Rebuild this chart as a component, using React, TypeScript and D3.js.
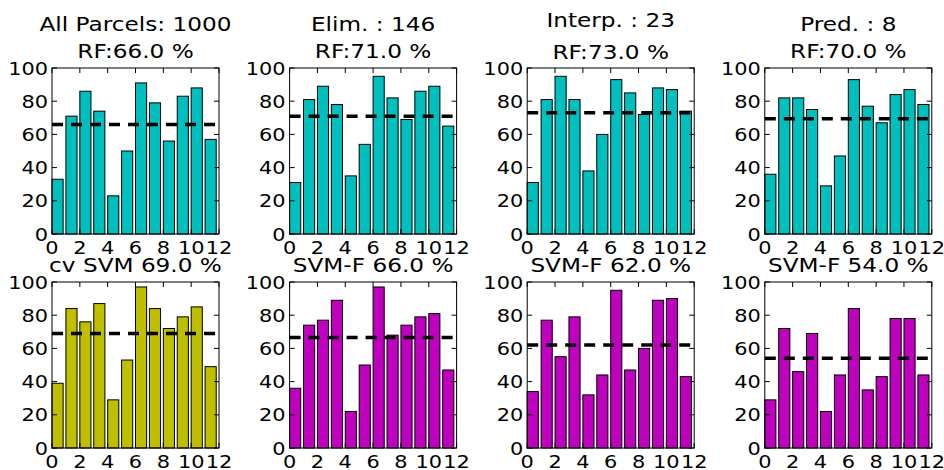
import React from "react";
import * as d3 from "d3";

// ---- data ----
const xTicks = [0, 2, 4, 6, 8, 10, 12];
const yTicks = [0, 20, 40, 60, 80, 100];

const rfTitles = ["All Parcels: 1000", "Elim. : 146", "Interp. : 23", "Pred. : 8"];
const rfScores = ["RF:66.0 %", "RF:71.0 %", "RF:73.0 %", "RF:70.0 %"];
const rfAllParcels = [33, 71, 86, 74, 23, 50, 91, 79, 56, 83, 88, 57];
const rfElim = [31, 81, 89, 78, 35, 54, 95, 82, 69, 86, 89, 65];
const rfInterp = [31, 81, 95, 81, 38, 60, 93, 85, 72, 88, 87, 74];
const rfPred = [36, 82, 82, 75, 29, 47, 93, 77, 67, 84, 87, 78];
const rfMeanLines = [66, 71, 73, 69.5];

const svmTitles = ["cv SVM 69.0 %", "SVM-F 66.0 %", "SVM-F 62.0 %", "SVM-F 54.0 %"];
const svmCv = [39, 84, 76, 87, 29, 53, 97, 84, 72, 79, 85, 49];
const svmF1 = [36, 74, 77, 89, 22, 50, 97, 68, 74, 79, 81, 47];
const svmF2 = [34, 77, 55, 79, 32, 44, 95, 47, 60, 89, 90, 43];
const svmF3 = [29, 72, 46, 69, 22, 44, 84, 35, 43, 78, 78, 44];
const svmMeanLines = [69, 66.5, 62, 54];

const CYAN = "#00bfbf";
const YELLOW = "#bfbf00";
const MAGENTA = "#bf00bf";

// ---- layout ----
const W = 944;
const H = 470;
const PW = 167;
const PH = 166;
const LEFT0 = 52;
const COL_STEP = 237.6;
const ROW_TOPS = [68, 282];
const FONT = "DejaVu Sans, Bitstream Vera Sans, sans-serif";
const XS = 1.16; // horizontal stretch of text in the reference

type Panel = {
  values: number[];
  line: number;
  color: string;
  lines: string[];
  row: number;
  col: number;
};

const panels: Panel[] = [
  ...[rfAllParcels, rfElim, rfInterp, rfPred].map((v, i) => ({
    values: v,
    line: rfMeanLines[i],
    color: CYAN,
    lines: [rfTitles[i], rfScores[i]],
    row: 0,
    col: i,
  })),
  ...[svmCv, svmF1, svmF2, svmF3].map((v, i) => ({
    values: v,
    line: svmMeanLines[i],
    color: i === 0 ? YELLOW : MAGENTA,
    lines: [svmTitles[i]],
    row: 1,
    col: i,
  })),
];

function T({ x, y, size, anchor, children, baseline }: any) {
  return (
    <g transform={`translate(${x},${y}) scale(${XS},1)`}>
      <text
        x={0}
        y={0}
        fontFamily={FONT}
        fontSize={size}
        textAnchor={anchor}
        dominantBaseline={baseline || "alphabetic"}
        fill="#000"
      >
        {children}
      </text>
    </g>
  );
}

function PanelView({ p }: { p: Panel }) {
  const left = LEFT0 + p.col * COL_STEP;
  const top = ROW_TOPS[p.row];
  const x = d3.scaleLinear().domain([0, 12]).range([0, PW]);
  const y = d3.scaleLinear().domain([0, 100]).range([PH, 0]);
  const tickLen = 5;
  const titleOffsets =
    p.lines.length === 2
      ? p.col === 2
        ? [-41, -9]
        : [-37, -10]
      : [-10];
  return (
    <g transform={`translate(${left},${top})`}>
      {p.lines.map((s, i) => (
        <T key={i} x={PW / 2} y={titleOffsets[i]} size={20} anchor="middle">
          {s}
        </T>
      ))}
      {p.values.map((v, i) => (
        <rect
          key={i}
          x={x(i)}
          y={y(v)}
          width={x(i + 0.8) - x(i)}
          height={y(0) - y(v)}
          fill={p.color}
          stroke="#000"
          strokeWidth={1}
        />
      ))}
      <line
        x1={x(0)}
        x2={x(12)}
        y1={y(p.line)}
        y2={y(p.line)}
        stroke="#000"
        strokeWidth={3.5}
        strokeDasharray="11,8"
      />
      <rect x={0} y={0} width={PW} height={PH} fill="none" stroke="#000" strokeWidth={1} />
      {xTicks.map((t) => (
        <g key={"x" + t}>
          <line x1={x(t)} x2={x(t)} y1={PH} y2={PH - tickLen} stroke="#000" />
          <line x1={x(t)} x2={x(t)} y1={0} y2={tickLen} stroke="#000" />
          <T x={x(t)} y={PH + 20} size={18} anchor="middle">
            {t}
          </T>
        </g>
      ))}
      {yTicks.map((t) => (
        <g key={"y" + t}>
          <line x1={0} x2={tickLen} y1={y(t)} y2={y(t)} stroke="#000" />
          <line x1={PW} x2={PW - tickLen} y1={y(t)} y2={y(t)} stroke="#000" />
          <T x={-4} y={y(t) + 6.5} size={18} anchor="end">
            {t}
          </T>
        </g>
      ))}
    </g>
  );
}

export default function App() {
  return (
    <svg
      width={W}
      height={H}
      viewBox={`0 0 ${W} ${H}`}
      style={{ position: "absolute", left: 0, top: 0, background: "#fff" }}
    >
      <rect x={0} y={0} width={W} height={H} fill="#fff" />
      {panels.map((p, i) => (
        <PanelView key={i} p={p} />
      ))}
    </svg>
  );
}
